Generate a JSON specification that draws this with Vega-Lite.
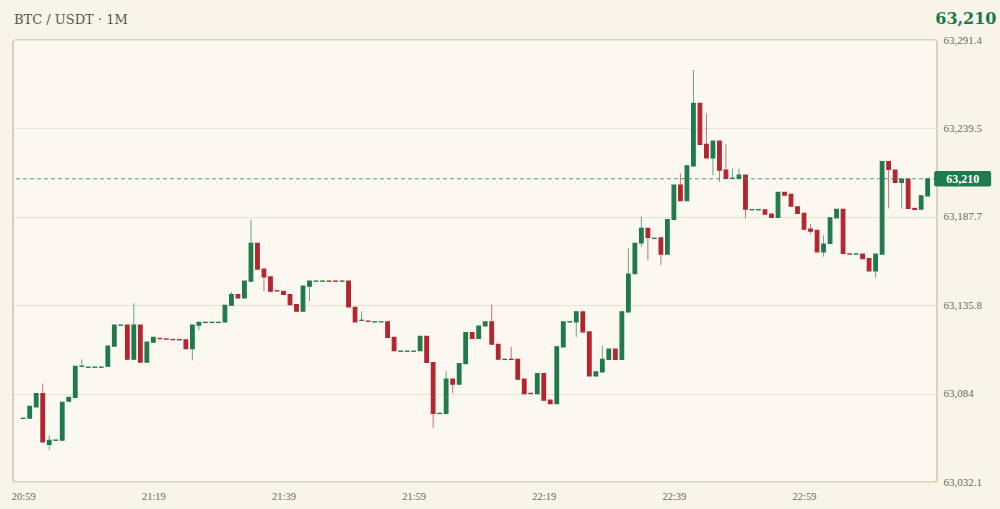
{
"$schema": "https://vega.github.io/schema/vega-lite/v6.json",
"width": 924, "height": 442,
"autosize": "none",
"padding": {"left": 13, "top": 40, "right": 63, "bottom": 27},
"background": "#f7f4ea",
"title": {"text": "BTC / USDT · 1M", "anchor": "start", "frame": "group", "offset": -17, "dx": 1, "font": "DejaVu Serif", "fontSize": 13, "fontWeight": "normal", "color": "#5a5446"},
"config": {"view": {"stroke": "#cfc8b2", "strokeWidth": 1.6, "fill": "#faf8f0", "cornerRadius": 3}},
"layer": [
{
"data": {"values": [
{"t":"20:59","o":63069.4,"h":63069.5,"l":63069.4,"c":63069.5},
{"t":"21:00","o":63069.5,"h":63076.5,"l":63069.5,"c":63076.5},
{"t":"21:01","o":63076.1,"h":63084.0,"l":63076.1,"c":63084.0},
{"t":"21:02","o":63084.0,"h":63089.9,"l":63055.6,"c":63055.6},
{"t":"21:03","o":63054.2,"h":63059.5,"l":63050.7,"c":63056.6},
{"t":"21:04","o":63056.6,"h":63056.7,"l":63056.6,"c":63056.7},
{"t":"21:05","o":63056.6,"h":63078.9,"l":63056.6,"c":63078.9},
{"t":"21:06","o":63079.5,"h":63081.8,"l":63079.5,"c":63081.8},
{"t":"21:07","o":63081.8,"h":63100.0,"l":63081.8,"c":63100.0},
{"t":"21:08","o":63100.0,"h":63104.1,"l":63100.0,"c":63100.1},
{"t":"21:09","o":63099.4,"h":63099.5,"l":63099.4,"c":63099.5},
{"t":"21:10","o":63099.4,"h":63099.5,"l":63099.4,"c":63099.5},
{"t":"21:11","o":63099.4,"h":63099.5,"l":63099.4,"c":63099.5},
{"t":"21:12","o":63100.0,"h":63111.8,"l":63100.0,"c":63111.8},
{"t":"21:13","o":63111.8,"h":63124.1,"l":63111.8,"c":63124.1},
{"t":"21:14","o":63124.1,"h":63124.2,"l":63124.1,"c":63124.2},
{"t":"21:15","o":63124.1,"h":63124.1,"l":63104.1,"c":63104.1},
{"t":"21:16","o":63104.1,"h":63137.0,"l":63104.1,"c":63124.1},
{"t":"21:17","o":63124.1,"h":63124.1,"l":63102.4,"c":63102.4},
{"t":"21:18","o":63102.4,"h":63114.1,"l":63102.4,"c":63114.1},
{"t":"21:19","o":63114.1,"h":63117.0,"l":63114.1,"c":63117.0},
{"t":"21:20","o":63116.3,"h":63116.3,"l":63116.2,"c":63116.2},
{"t":"21:21","o":63116.0,"h":63116.0,"l":63115.9,"c":63115.9},
{"t":"21:22","o":63115.7,"h":63115.7,"l":63115.6,"c":63115.6},
{"t":"21:23","o":63115.6,"h":63115.6,"l":63115.5,"c":63115.5},
{"t":"21:24","o":63115.5,"h":63115.5,"l":63110.4,"c":63110.4},
{"t":"21:25","o":63110.4,"h":63124.1,"l":63103.5,"c":63124.1},
{"t":"21:26","o":63124.1,"h":63125.7,"l":63121.2,"c":63125.7},
{"t":"21:27","o":63125.7,"h":63125.8,"l":63125.7,"c":63125.8},
{"t":"21:28","o":63125.7,"h":63125.8,"l":63125.7,"c":63125.8},
{"t":"21:29","o":63125.7,"h":63125.8,"l":63125.7,"c":63125.8},
{"t":"21:30","o":63126.0,"h":63135.8,"l":63126.0,"c":63135.8},
{"t":"21:31","o":63135.8,"h":63143.6,"l":63135.8,"c":63142.1},
{"t":"21:32","o":63142.1,"h":63142.1,"l":63140.1,"c":63140.1},
{"t":"21:33","o":63140.1,"h":63149.9,"l":63140.1,"c":63149.9},
{"t":"21:34","o":63149.9,"h":63186.1,"l":63149.9,"c":63172.1},
{"t":"21:35","o":63172.1,"h":63172.1,"l":63157.0,"c":63157.0},
{"t":"21:36","o":63157.0,"h":63157.0,"l":63144.0,"c":63152.4},
{"t":"21:37","o":63152.4,"h":63152.4,"l":63144.0,"c":63144.0},
{"t":"21:38","o":63144.3,"h":63144.3,"l":63144.2,"c":63144.2},
{"t":"21:39","o":63144.0,"h":63144.0,"l":63142.1,"c":63142.1},
{"t":"21:40","o":63142.1,"h":63142.1,"l":63136.2,"c":63136.2},
{"t":"21:41","o":63136.2,"h":63136.2,"l":63132.3,"c":63132.3},
{"t":"21:42","o":63132.3,"h":63147.0,"l":63132.3,"c":63147.0},
{"t":"21:43","o":63147.0,"h":63149.9,"l":63138.2,"c":63149.9},
{"t":"21:44","o":63149.9,"h":63150.0,"l":63149.9,"c":63150.0},
{"t":"21:45","o":63149.9,"h":63150.0,"l":63149.9,"c":63150.0},
{"t":"21:46","o":63150.0,"h":63150.0,"l":63149.9,"c":63149.9},
{"t":"21:47","o":63150.0,"h":63150.0,"l":63149.9,"c":63149.9},
{"t":"21:48","o":63149.9,"h":63150.0,"l":63149.9,"c":63150.0},
{"t":"21:49","o":63149.9,"h":63149.9,"l":63134.8,"c":63134.8},
{"t":"21:50","o":63134.6,"h":63134.6,"l":63126.0,"c":63126.0},
{"t":"21:51","o":63126.9,"h":63132.3,"l":63126.9,"c":63127.0},
{"t":"21:52","o":63126.5,"h":63126.5,"l":63126.4,"c":63126.4},
{"t":"21:53","o":63126.0,"h":63126.1,"l":63126.0,"c":63126.1},
{"t":"21:54","o":63126.0,"h":63126.1,"l":63126.0,"c":63126.1},
{"t":"21:55","o":63126.0,"h":63126.0,"l":63117.0,"c":63117.0},
{"t":"21:56","o":63117.0,"h":63117.0,"l":63109.2,"c":63109.2},
{"t":"21:57","o":63108.8,"h":63108.9,"l":63108.8,"c":63108.9},
{"t":"21:58","o":63108.8,"h":63108.9,"l":63108.8,"c":63108.9},
{"t":"21:59","o":63108.8,"h":63108.9,"l":63108.8,"c":63108.9},
{"t":"22:00","o":63109.2,"h":63117.6,"l":63109.2,"c":63117.6},
{"t":"22:01","o":63117.6,"h":63117.6,"l":63102.2,"c":63102.2},
{"t":"22:02","o":63102.2,"h":63102.2,"l":63063.8,"c":63072.3},
{"t":"22:03","o":63072.3,"h":63072.4,"l":63072.3,"c":63072.4},
{"t":"22:04","o":63072.3,"h":63097.1,"l":63072.3,"c":63092.4},
{"t":"22:05","o":63092.4,"h":63092.4,"l":63084.2,"c":63089.5},
{"t":"22:06","o":63089.5,"h":63101.6,"l":63089.5,"c":63101.6},
{"t":"22:07","o":63101.6,"h":63119.8,"l":63101.6,"c":63119.8},
{"t":"22:08","o":63119.8,"h":63119.8,"l":63116.3,"c":63116.3},
{"t":"22:09","o":63116.3,"h":63123.5,"l":63116.3,"c":63123.5},
{"t":"22:10","o":63123.7,"h":63126.0,"l":63123.7,"c":63126.0},
{"t":"22:11","o":63126.0,"h":63136.2,"l":63112.9,"c":63112.9},
{"t":"22:12","o":63112.9,"h":63112.9,"l":63104.1,"c":63104.1},
{"t":"22:13","o":63104.0,"h":63104.1,"l":63104.0,"c":63104.1},
{"t":"22:14","o":63104.1,"h":63111.4,"l":63104.0,"c":63104.0},
{"t":"22:15","o":63104.0,"h":63104.0,"l":63092.4,"c":63092.4},
{"t":"22:16","o":63092.4,"h":63092.4,"l":63084.0,"c":63084.0},
{"t":"22:17","o":63084.1,"h":63084.1,"l":63084.0,"c":63084.0},
{"t":"22:18","o":63084.0,"h":63095.7,"l":63084.0,"c":63095.7},
{"t":"22:19","o":63095.7,"h":63095.7,"l":63080.1,"c":63080.1},
{"t":"22:20","o":63080.1,"h":63080.1,"l":63078.1,"c":63078.1},
{"t":"22:21","o":63078.1,"h":63111.4,"l":63078.1,"c":63111.4},
{"t":"22:22","o":63111.4,"h":63126.0,"l":63111.4,"c":63126.0},
{"t":"22:23","o":63126.0,"h":63126.1,"l":63126.0,"c":63126.1},
{"t":"22:24","o":63126.0,"h":63131.9,"l":63117.2,"c":63131.9},
{"t":"22:25","o":63131.9,"h":63131.9,"l":63120.2,"c":63120.2},
{"t":"22:26","o":63120.2,"h":63120.2,"l":63094.3,"c":63094.3},
{"t":"22:27","o":63094.3,"h":63096.7,"l":63094.3,"c":63096.7},
{"t":"22:28","o":63096.7,"h":63111.9,"l":63096.7,"c":63104.0},
{"t":"22:29","o":63104.0,"h":63110.0,"l":63104.0,"c":63110.0},
{"t":"22:30","o":63110.0,"h":63110.0,"l":63104.0,"c":63104.0},
{"t":"22:31","o":63104.0,"h":63131.9,"l":63104.0,"c":63131.9},
{"t":"22:32","o":63131.9,"h":63169.1,"l":63131.9,"c":63154.0},
{"t":"22:33","o":63154.4,"h":63172.1,"l":63154.4,"c":63172.1},
{"t":"22:34","o":63172.4,"h":63187.7,"l":63170.0,"c":63180.9},
{"t":"22:35","o":63180.9,"h":63180.9,"l":63162.2,"c":63175.6},
{"t":"22:36","o":63175.0,"h":63175.1,"l":63175.0,"c":63175.1},
{"t":"22:37","o":63175.3,"h":63175.3,"l":63159.3,"c":63165.8},
{"t":"22:38","o":63165.8,"h":63186.1,"l":63165.8,"c":63186.1},
{"t":"22:39","o":63186.1,"h":63206.3,"l":63186.1,"c":63206.3},
{"t":"22:40","o":63206.3,"h":63213.1,"l":63197.1,"c":63197.1},
{"t":"22:41","o":63197.1,"h":63217.6,"l":63197.1,"c":63217.6},
{"t":"22:42","o":63217.6,"h":63273.8,"l":63217.6,"c":63254.2},
{"t":"22:43","o":63254.2,"h":63254.2,"l":63230.2,"c":63230.2},
{"t":"22:44","o":63230.2,"h":63248.4,"l":63222.3,"c":63222.3},
{"t":"22:45","o":63222.3,"h":63232.1,"l":63212.1,"c":63232.1},
{"t":"22:46","o":63232.1,"h":63232.1,"l":63208.2,"c":63215.1},
{"t":"22:47","o":63215.1,"h":63230.2,"l":63210.2,"c":63210.2},
{"t":"22:48","o":63210.2,"h":63216.1,"l":63210.2,"c":63210.3},
{"t":"22:49","o":63210.2,"h":63216.1,"l":63210.2,"c":63212.1},
{"t":"22:50","o":63212.1,"h":63212.1,"l":63186.7,"c":63192.2},
{"t":"22:51","o":63191.8,"h":63191.9,"l":63191.8,"c":63191.9},
{"t":"22:52","o":63191.8,"h":63191.9,"l":63191.8,"c":63191.9},
{"t":"22:53","o":63191.8,"h":63191.8,"l":63189.3,"c":63189.3},
{"t":"22:54","o":63189.3,"h":63189.3,"l":63187.3,"c":63187.3},
{"t":"22:55","o":63187.3,"h":63202.0,"l":63187.3,"c":63202.0},
{"t":"22:56","o":63202.0,"h":63202.0,"l":63200.4,"c":63200.4},
{"t":"22:57","o":63200.8,"h":63200.8,"l":63194.0,"c":63194.0},
{"t":"22:58","o":63193.5,"h":63193.5,"l":63189.7,"c":63189.7},
{"t":"22:59","o":63189.7,"h":63189.7,"l":63180.4,"c":63180.4},
{"t":"23:00","o":63180.4,"h":63183.4,"l":63177.5,"c":63179.3},
{"t":"23:01","o":63179.7,"h":63179.7,"l":63167.1,"c":63167.1},
{"t":"23:02","o":63167.1,"h":63176.9,"l":63164.2,"c":63171.6},
{"t":"23:03","o":63172.1,"h":63187.1,"l":63172.1,"c":63187.1},
{"t":"23:04","o":63187.1,"h":63192.0,"l":63187.1,"c":63192.0},
{"t":"23:05","o":63192.0,"h":63192.0,"l":63166.2,"c":63166.2},
{"t":"23:06","o":63165.9,"h":63165.9,"l":63165.8,"c":63165.8},
{"t":"23:07","o":63165.8,"h":63165.9,"l":63165.8,"c":63165.9},
{"t":"23:08","o":63165.8,"h":63165.8,"l":63163.2,"c":63163.2},
{"t":"23:09","o":63163.2,"h":63163.2,"l":63156.0,"c":63156.0},
{"t":"23:10","o":63156.0,"h":63165.8,"l":63152.1,"c":63165.8},
{"t":"23:11","o":63165.8,"h":63220.0,"l":63165.8,"c":63220.0},
{"t":"23:12","o":63220.0,"h":63220.0,"l":63192.6,"c":63215.5},
{"t":"23:13","o":63215.1,"h":63215.1,"l":63207.9,"c":63207.9},
{"t":"23:14","o":63207.9,"h":63209.8,"l":63192.6,"c":63209.8},
{"t":"23:15","o":63209.8,"h":63209.8,"l":63192.6,"c":63192.6},
{"t":"23:16","o":63192.6,"h":63192.6,"l":63192.0,"c":63192.0},
{"t":"23:17","o":63192.2,"h":63200.0,"l":63192.2,"c":63200.0},
{"t":"23:18","o":63200.0,"h":63210.0,"l":63200.0,"c":63210.0}
], "format": {"parse": {"t": "date:'%H:%M'"}}},
"layer": [
{"mark": {"type": "rule", "strokeWidth": 1, "opacity": 0.65},
 "encoding": {
  "x": {"field": "t", "type": "temporal",
   "scale": {"domain": [{"year":1900,"month":1,"date":1,"hours":20,"minutes":58,"seconds":12},{"year":1900,"month":1,"date":1,"hours":23,"minutes":18,"seconds":40}], "nice": false},
   "axis": {"values": [{"year":1900,"month":1,"date":1,"hours":20,"minutes":59},{"year":1900,"month":1,"date":1,"hours":21,"minutes":19},{"year":1900,"month":1,"date":1,"hours":21,"minutes":39},{"year":1900,"month":1,"date":1,"hours":21,"minutes":59},{"year":1900,"month":1,"date":1,"hours":22,"minutes":19},{"year":1900,"month":1,"date":1,"hours":22,"minutes":39},{"year":1900,"month":1,"date":1,"hours":22,"minutes":59}],
    "format": "%H:%M", "title": null, "grid": false, "ticks": false, "domain": false, "labelFlush": false,
    "labelFont": "Liberation Serif", "labelFontSize": 10.5, "labelColor": "#6f6858", "labelPadding": 9}},
  "y": {"field": "l", "type": "quantitative",
   "scale": {"domain": [63032.1, 63291.4], "nice": false, "zero": false},
   "axis": {"orient": "right", "values": [63032.1, 63083.96, 63135.82, 63187.68, 63239.54, 63291.4], "format": ",.1~f",
    "grid": true, "gridColor": "#e8e2d0", "gridWidth": 1, "ticks": false, "domain": false, "labelFlush": false,
    "labelFont": "Liberation Serif", "labelFontSize": 11, "labelColor": "#6f6858", "labelPadding": 6,
    "title": "63,210", "titleAngle": 0, "titleX": 59, "titleY": -22, "titleAlign": "right", "titleBaseline": "middle",
    "titleFont": "DejaVu Serif", "titleFontSize": 16, "titleFontWeight": "bold", "titleColor": "#1b7a4b"}},
  "y2": {"field": "h"},
  "color": {"condition": {"test": "datum.c >= datum.o", "value": "#1f7a4c"}, "value": "#b3262f"}
 }},
{"mark": {"type": "bar", "size": 3.6, "strokeWidth": 1.2},
 "encoding": {
  "x": {"field": "t", "type": "temporal"},
  "y": {"field": "o", "type": "quantitative"},
  "y2": {"field": "c"},
  "fill": {"condition": {"test": "datum.c >= datum.o", "value": "#1f7a4c"}, "value": "#b3262f"},
  "stroke": {"condition": {"test": "datum.c >= datum.o", "value": "#1f7a4c"}, "value": "#b3262f"}
 }}
]
},
{
"data": {"values": [{"t": "23:18", "price": 63210}], "format": {"parse": {"t": "date:'%H:%M'"}}},
"layer": [
{"mark": {"type": "rule", "strokeDash": [4, 3], "strokeWidth": 1, "color": "#2e8a5a", "opacity": 0.8},
 "encoding": {"y": {"field": "price", "type": "quantitative"}}},
{"mark": {"type": "point", "filled": true, "opacity": 1, "color": "#1f7a4c", "xOffset": 35, "size": 3249,
  "shape": "M-0.93,-0.27 L0.93,-0.27 Q1,-0.27 1,-0.2 L1,0.2 Q1,0.27 0.93,0.27 L-0.93,0.27 Q-1,0.27 -1,0.2 L-1,-0.2 Q-1,-0.27 -0.93,-0.27 Z"},
 "encoding": {"x": {"field": "t", "type": "temporal"}, "y": {"field": "price", "type": "quantitative"}}},
{"mark": {"type": "text", "xOffset": 35, "color": "#ffffff", "font": "Liberation Serif", "fontSize": 12, "fontWeight": "bold", "align": "center", "baseline": "middle"},
 "encoding": {"x": {"field": "t", "type": "temporal"}, "y": {"field": "price", "type": "quantitative"}, "text": {"field": "price", "format": ",.0f"}}}
]
}
]
}
